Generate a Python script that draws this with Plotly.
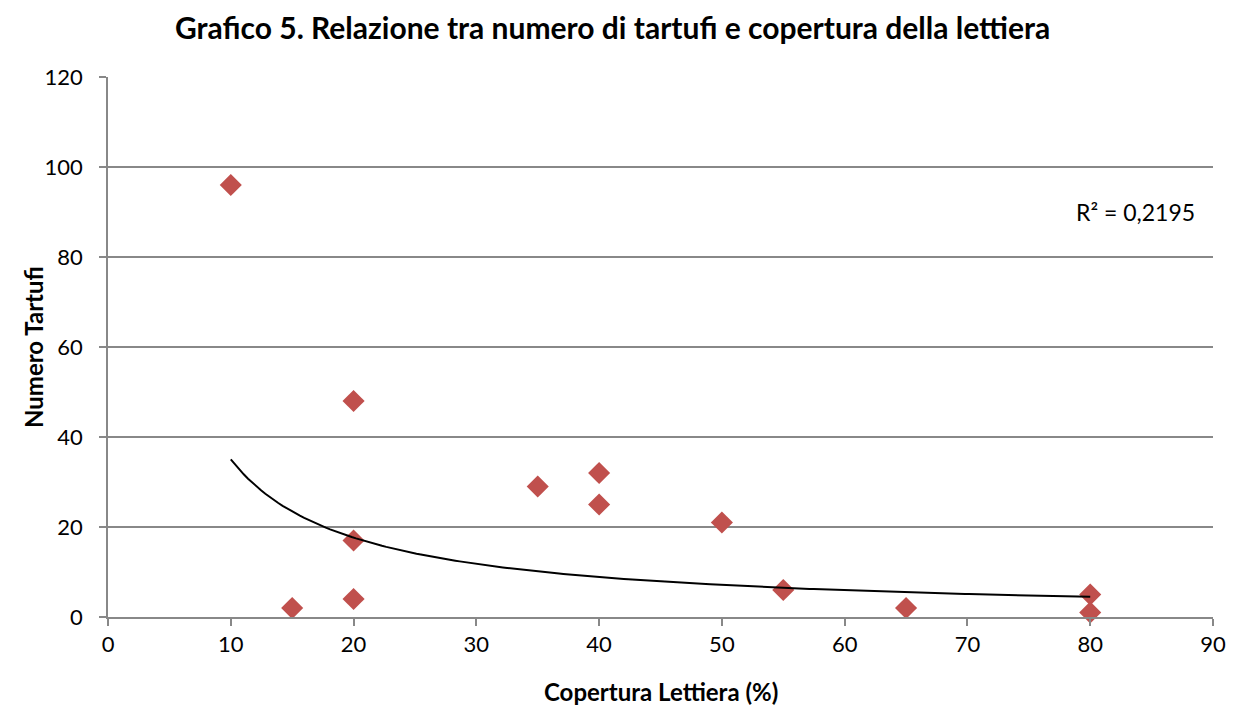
import numpy as np
import plotly.graph_objects as go

copertura = [10, 15, 20, 20, 20, 35, 40, 40, 50, 55, 65, 80, 80]
tartufi = [96, 2, 48, 17, 4, 29, 32, 25, 21, 6, 2, 5, 1]
r2_label = "R² = 0,2195"
title_text = "Grafico 5. Relazione tra numero di tartufi e copertura della lettiera"
x_title = "Copertura Lettiera (%)"
y_title = "Numero Tartufi"

# power trend line fitted in log space
b, ln_a = np.polyfit(np.log(copertura), np.log(tartufi), 1)
xt = np.linspace(min(copertura), max(copertura), 200)
yt = np.exp(ln_a) * xt ** b

FONT = "Lato"
W, H = 1233, 699
L, R, T, B = 100, 28, 69, 90
PW, PH = W - L - R, H - T - B


def px(xp):
    return (xp - 8 - L) / PW


def py(yp):
    return (H - B - (yp - 8)) / PH


fig = go.Figure()
fig.add_trace(go.Scatter(
    x=copertura, y=tartufi, mode="markers",
    marker=dict(symbol="diamond", size=17, color="#C0504D"),
    showlegend=False, cliponaxis=False))
fig.add_trace(go.Scatter(
    x=xt, y=yt, mode="lines", line=dict(color="black", width=2),
    showlegend=False))

axis_col = "#888888"
fig.update_layout(
    width=W, height=H,
    margin=dict(l=L, r=R, t=T, b=B),
    paper_bgcolor="white", plot_bgcolor="white",
    font=dict(family=FONT, size=22, color="black"),
    xaxis=dict(range=[0, 90], tickvals=list(range(0, 91, 10)),
               showgrid=False, zeroline=False,
               showline=True, linecolor=axis_col, linewidth=1.5,
               ticks="outside", ticklen=7, tickcolor=axis_col, tickwidth=1.5),
    yaxis=dict(range=[0, 120], tickvals=list(range(0, 121, 20)),
               showgrid=True, gridcolor=axis_col, gridwidth=1.5,
               zeroline=False, ticklabelstandoff=12,
               showline=True, linecolor=axis_col, linewidth=1.5,
               ticks="outside", ticklen=7, tickcolor=axis_col, tickwidth=1.5),
    annotations=[
        dict(text="<b>" + title_text + "</b>", x=px(612), y=py(27), xref="paper", yref="paper",
             showarrow=False, xanchor="center", yanchor="middle", font=dict(size=30)),
        dict(text="<b>" + x_title + "</b>", x=px(661), y=py(691), xref="paper", yref="paper",
             showarrow=False, xanchor="center", yanchor="middle", font=dict(size=24)),
        dict(text="<b>" + y_title + "</b>", x=px(33), y=py(347), xref="paper", yref="paper",
             showarrow=False, xanchor="center", yanchor="middle", textangle=-90, font=dict(size=24)),
        dict(text=r2_label, x=px(1197), y=py(212), xref="paper", yref="paper",
             showarrow=False, xanchor="right", yanchor="middle", font=dict(size=23)),
    ],
)
fig.write_html("out.html")
